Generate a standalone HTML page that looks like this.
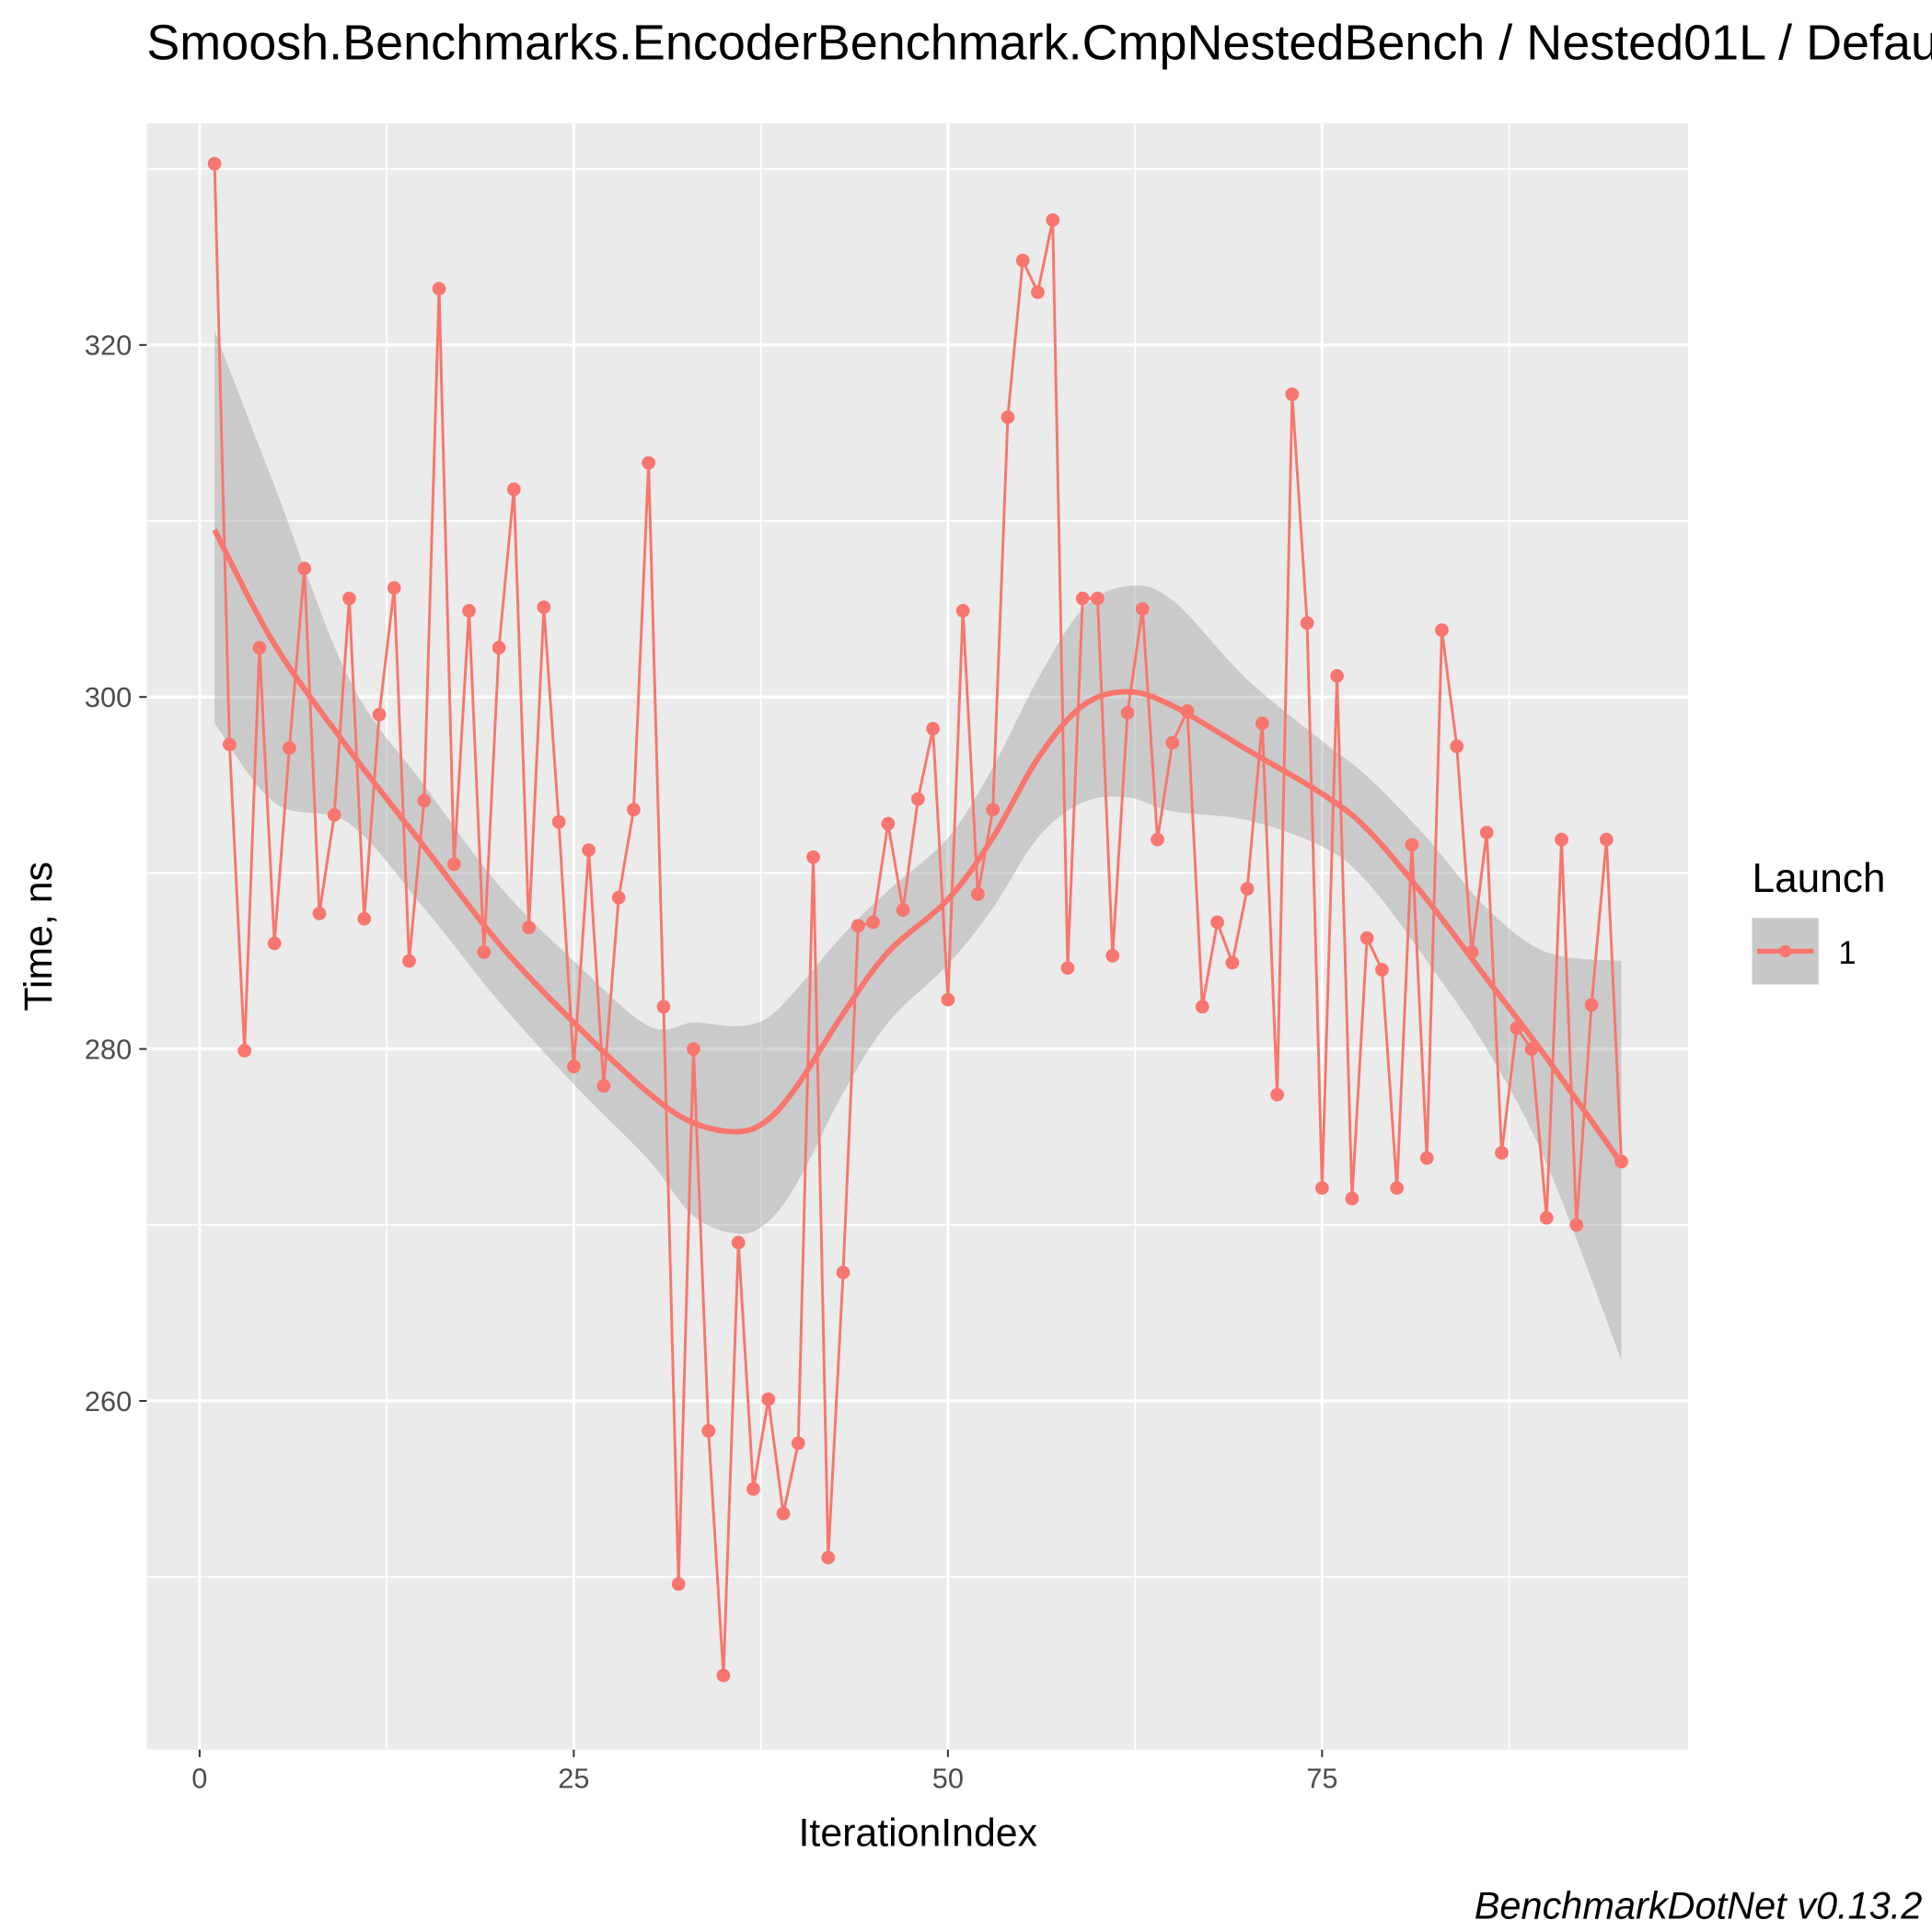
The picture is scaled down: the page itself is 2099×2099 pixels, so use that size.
<!DOCTYPE html>
<html><head><meta charset="utf-8"><style>html,body{margin:0;padding:0;background:#fff}svg{display:block}</style></head>
<body>
<svg id="chart" width="2099" height="2099" viewBox="0 0 1568 1568" xmlns="http://www.w3.org/2000/svg" font-family="Liberation Sans, sans-serif">
<rect width="1568" height="1568" fill="#fff"/>
<text x="119" y="48" font-size="40.3" fill="#000">Smoosh.Benchmarks.EncoderBenchmark.CmpNestedBench / Nested01L / Default</text>
<rect x="119" y="100" width="1251" height="1320" fill="#ebebeb"/>
<g id="grid"></g>
<g id="band"></g>
<g id="series"></g>
<g id="axes"></g>
<text x="745" y="1498" font-size="32" text-anchor="middle">IterationIndex</text>
<text transform="translate(42,760) rotate(-90)" font-size="32" text-anchor="middle">Time, ns</text>
<g>
<text x="1422" y="724" font-size="33">Launch</text>
<rect x="1422" y="745" width="54" height="54" fill="#c8c8c8"/>
<line x1="1426" y1="772" x2="1472" y2="772" stroke="#F8766D" stroke-width="4"/>
<circle cx="1449" cy="772" r="5" fill="#F8766D"/>
<text x="1492" y="782" font-size="26">1</text>
</g>
<text x="1560" y="1557" font-size="31" font-style="italic" text-anchor="end">BenchmarkDotNet v0.13.2</text>
</svg>
<script>
const times = [330.3,297.3,279.9,302.8,286.0,297.1,307.3,287.7,293.3,305.6,287.4,299.0,306.2,285.0,294.1,323.2,290.5,304.9,285.5,302.8,311.8,286.9,305.1,292.9,279.0,291.3,277.9,288.6,293.6,313.3,282.4,249.6,280.0,258.3,244.4,269.0,255.0,260.1,253.6,257.6,290.9,251.1,267.3,287.0,287.2,292.8,287.9,294.2,298.2,282.8,304.9,288.8,293.6,315.9,324.8,323.0,327.1,284.6,305.6,305.6,285.3,299.1,305.0,291.9,297.4,299.2,282.4,287.2,284.9,289.1,298.5,277.4,317.2,304.2,272.1,301.2,271.5,286.3,284.5,272.1,291.6,273.8,303.8,297.2,285.5,292.3,274.1,281.2,280.0,270.4,291.9,270.0,282.5,291.9,273.6];
const smoothX = [1,5,10,15,20,25,30,33,36,38,40,43,46,50,53,56,59,62,65,70,75,78,82,86,90,95];
const smoothY = [309.5,303,297,291.5,286,281.5,277.5,275.8,275.3,276,278,282,285.5,288.5,292,296.5,299.5,300.3,299.5,297,294.5,292.5,288.5,284,279.5,273.5];
const bandUpper = [320.8,312,301,295,289.3,285,281.3,281.5,281.3,281.8,283.5,286.5,289,292,296,301,305,306.3,305.5,301,297.5,295.5,292,288,285.5,285];
const bandLower = [298.5,294,292.8,288,282.7,278,273.7,270.5,269.5,270.2,272.5,277.5,281.5,284.8,288,292,294,294.3,293.5,293,291.5,289.5,285,280,273.5,262.3];
const xTicks = [0,25,50,75];
const yTicks = [260,280,300,320];
const xMinor = [12.5,37.5,62.5,87.5];
const yMinor = [250,270,290,310,330];

const X = v => 162 + v*(1073-162)/75;
const Y = v => 280 + (320-v)*(857/60);
const NS='http://www.w3.org/2000/svg';
function mk(tag, attrs, parent){const e=document.createElementNS(NS,tag);for(const k in attrs)e.setAttribute(k,attrs[k]);parent.appendChild(e);return e;}
function curve(pts, start){
  let s = start ? 'M'+pts[0][0]+','+pts[0][1] : ' L'+pts[0][0]+','+pts[0][1];
  for(let i=0;i<pts.length-1;i++){
    const p0=pts[Math.max(0,i-1)],p1=pts[i],p2=pts[i+1],p3=pts[Math.min(pts.length-1,i+2)];
    const c1=[p1[0]+(p2[0]-p0[0])/6,p1[1]+(p2[1]-p0[1])/6];
    const c2=[p2[0]-(p3[0]-p1[0])/6,p2[1]-(p3[1]-p1[1])/6];
    s+=' C'+c1[0]+','+c1[1]+' '+c2[0]+','+c2[1]+' '+p2[0]+','+p2[1];
  }
  return s;
}
const grid=document.getElementById('grid'), band=document.getElementById('band'), series=document.getElementById('series'), axes=document.getElementById('axes');
yMinor.forEach(v=>{const l=mk('line',{x1:119,x2:1370,y1:Y(v),y2:Y(v),stroke:'#fff','stroke-width':1.2},grid);

});
xMinor.forEach(v=>{const l=mk('line',{x1:X(v),x2:X(v),y1:100,y2:1420,stroke:'#fff','stroke-width':1.2},grid);

});
yTicks.forEach(v=>{const l=mk('line',{x1:119,x2:1370,y1:Y(v),y2:Y(v),stroke:'#fff','stroke-width':2.4},grid);


const t=mk('text',{x:107,y:Y(v)+8,'font-size':23,'text-anchor':'end',fill:'#4d4d4d'},axes);t.textContent=v;


mk('line',{x1:113,x2:119,y1:Y(v),y2:Y(v),stroke:'#333','stroke-width':1.5},axes);});
xTicks.forEach(v=>{const l=mk('line',{x1:X(v),x2:X(v),y1:100,y2:1420,stroke:'#fff','stroke-width':2.4},grid);


const t=mk('text',{x:X(v),y:1451,'font-size':23,'text-anchor':'middle',fill:'#4d4d4d'},axes);t.textContent=v;


mk('line',{x1:X(v),x2:X(v),y1:1420,y2:1426,stroke:'#333','stroke-width':1.5},axes);});
const up=smoothX.map((x,i)=>[X(x),Y(bandUpper[i])]);
const lo=smoothX.map((x,i)=>[X(x),Y(bandLower[i])]).reverse();
const bp=mk('path',{d:curve(up,true)+curve(lo,false)+'Z',fill:'#999','fill-opacity':0.4},band);


const pl=mk('polyline',{points:times.map((v,i)=>X(i+1)+','+Y(v)).join(' '),fill:'none',stroke:'#F8766D','stroke-width':2.2},series);


times.forEach((v,i)=>{const c=mk('circle',{cx:X(i+1),cy:Y(v),r:5.5,fill:'#F8766D'},series);

});
const sm=mk('path',{d:curve(smoothX.map((x,i)=>[X(x),Y(smoothY[i])]),true),fill:'none',stroke:'#F8766D','stroke-width':4.5,'stroke-linejoin':'round'},series);


</script>
</body></html>
